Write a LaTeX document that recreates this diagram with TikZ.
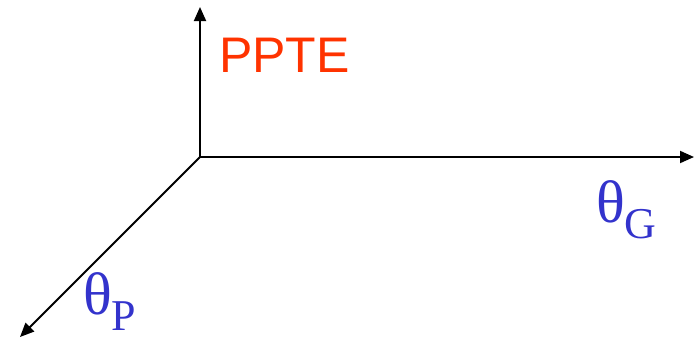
\documentclass[tikz,border=0pt]{standalone}
\usepackage{fontspec}
\setmainfont{Liberation Serif}
\newfontfamily\arialf{Liberation Sans}
\usetikzlibrary{arrows.meta}
\definecolor{pptered}{RGB}{255,51,0}
\definecolor{thetablue}{RGB}{51,51,204}
\tikzset{
  axis/.style={line width=1.9pt, -{Triangle[length=14pt,width=12pt]}},
  redlabel/.style={text=pptered, inner sep=0pt, anchor=base west, font=\arialf\fontsize{50}{50}\selectfont},
  greeklabel/.style={text=thetablue, inner sep=0pt, anchor=base west}
}
\newcommand{\thetasub}[1]{{\fontsize{60}{60}\selectfont θ}{\fontsize{44}{44}\selectfont\raisebox{-16pt}{#1}}}
\begin{document}
\begin{tikzpicture}[x=1pt,y=-1pt]
\useasboundingbox (0,0) rectangle (694,338);
\coordinate (O) at (200,157);
\coordinate (up) at (200,7);
\coordinate (right) at (694,157);
\coordinate (diag) at (20,337);
\draw[axis] (O) -- (up);
\draw[axis] (O) -- (right);
\draw[axis] (O) -- (diag);
\node[redlabel] (ppte) at (219,72) {PPTE};
\node[greeklabel] (thG) at (596,222) {\thetasub{G}};
\node[greeklabel] (thP) at (83,314) {\thetasub{P}};
\end{tikzpicture}
\end{document}
